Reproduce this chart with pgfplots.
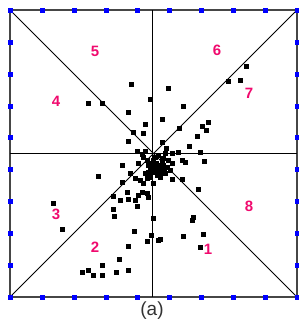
\documentclass[border=0pt]{standalone}
\usepackage{pgfplots}
\pgfplotsset{compat=1.18}
\usepackage{fontspec}
\setmainfont{Liberation Sans}
\definecolor{numc}{RGB}{240,10,110}
\definecolor{framec}{RGB}{70,70,70}
\begin{document}
\begin{tikzpicture}
\begin{axis}[
  scale only axis, width=287pt, height=287pt,
  xmin=10, xmax=297, ymin=10, ymax=297, y dir=reverse,
  axis lines=none, clip=false,
]
% frame
\addplot[framec, line width=1.5pt, mark=none] coordinates {(10,10) (297,10) (297,297) (10,297) (10,10)};
% inner lines
\addplot[black, line width=0.8pt, mark=none] coordinates {(10,10) (297,297)};
\addplot[black, line width=0.8pt, mark=none] coordinates {(10,297) (297,10)};
\addplot[black, line width=0.8pt, mark=none] coordinates {(10,153) (297,153)};
\addplot[black, line width=0.8pt, mark=none] coordinates {(152,10) (152,297)};
% border dots
\addplot[only marks, mark=square*, mark size=2pt, blue] coordinates {
(10,10) (41.9,10) (73.8,10) (105.7,10) (137.6,10) (169.4,10) (201.3,10) (233.2,10) (265.1,10) (297,10)
(10,297) (41.9,297) (73.8,297) (105.7,297) (137.6,297) (169.4,297) (201.3,297) (233.2,297) (265.1,297) (297,297)
(10,41.9) (10,73.8) (10,105.7) (10,137.6) (10,169.4) (10,201.3) (10,233.2) (10,265.1)
(297,41.9) (297,73.8) (297,105.7) (297,137.6) (297,169.4) (297,201.3) (297,233.2) (297,265.1)
};
% data points
\addplot[only marks, mark=square*, mark size=1.9pt, black] table {
x y
88 103
102 103
131 84
150 99
128 112
145 124
133 132
143 133
128 141
137 151
168 88
246 66
228 81
240 80
183 106
162 119
179 128
202 126
208 122
206 130
197 136
189 146
162 142
166 148
165 153
172 153
178 152
200 152
182 160
185 162
204 161
162 160
172 163
163 165
162 168
165 173
172 179
182 179
198 189
153 183
143 157
147 160
122 165
98 176
138 163
150 168
153 172
148 172
130 173
135 178
140 180
122 182
143 183
127 192
142 192
138 195
113 196
120 200
128 199
135 200
147 193
148 197
147 178
150 177
145 173
53 203
62 229
113 209
114 216
137 206
134 231
147 241
128 246
119 259
128 270
116 272
102 265
102 275
93 275
88 270
82 272
153 218
151 235
158 240
193 217
192 220
203 234
183 236
200 247
160 239
150 163
153 160
156 163
159 165
155 168
158 170
161 172
164 170
167 167
152 165
157 175
160 177
148 165
155 157
158 155
168 160
170 170
163 158
142 154
145 151
};
% region numbers
\begin{scope}[every node/.style={text=numc, font=\fontsize{15}{15}\selectfont\bfseries}]
\node at (axis cs:95,51) {5};
\node at (axis cs:217,50) {6};
\node at (axis cs:249,93) {7};
\node at (axis cs:56,101) {4};
\node at (axis cs:56,214) {3};
\node at (axis cs:249,206) {8};
\node at (axis cs:95,247) {2};
\node at (axis cs:208,249) {1};
\end{scope}
\node[font=\fontsize{19}{19}\selectfont, text=black!80] at (axis cs:152,311) {(a)};
\coordinate (bl) at (axis cs:0,324);
\coordinate (tr) at (axis cs:299,0);
\end{axis}
\pgfresetboundingbox
\path[use as bounding box] (bl) rectangle (tr);
\end{tikzpicture}
\end{document}
